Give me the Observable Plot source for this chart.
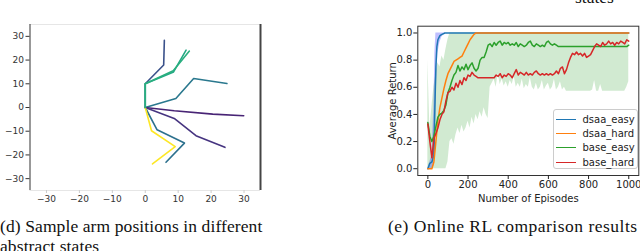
<!DOCTYPE html>
<html><head><meta charset="utf-8">
<script src="https://cdn.jsdelivr.net/npm/d3@7"></script>
<script src="https://cdn.jsdelivr.net/npm/@observablehq/plot@0.6"></script>
<style>
body{margin:0;background:#fff;}
#wrap{position:relative;width:640px;height:251px;overflow:hidden;background:#fff;}
.cap{position:absolute;font-family:"Liberation Serif","DejaVu Serif",serif;font-size:17.5px;color:#111;white-space:nowrap;line-height:20.5px;}
#left,#right{position:absolute;top:0;}
#left{left:0}
#right{left:370px}
#legend{position:absolute;left:553px;top:109px;width:83px;height:58px;border:1px solid #ccc;border-radius:3px;background:rgba(255,255,255,0.85);font-family:"DejaVu Sans",sans-serif;font-size:10px;color:#222;}
.row{position:absolute;left:2px;height:12px;display:flex;align-items:center;white-space:nowrap}
.sw{width:20px;height:0;border-top:1.5px solid;margin-right:6.5px}
</style>
</head><body>
<div id="wrap">
  <div id="left"></div>
  <div id="right"></div>
  <div id="legend"></div>
  <div class="cap" style="left:575px;top:-13px">states</div>
  <div class="cap" style="left:0px;top:215.5px;letter-spacing:0.1px">(d) Sample arm positions in different<br>abstract states</div>
  <div class="cap" style="left:388px;top:215.5px;letter-spacing:0.5px">(e) Online RL comparison results</div>
</div>
<script>
// ---------- (d) arm positions ----------
const armShade = [0.25, 0.4, 0.1, 0.15, 0.37, 1.0, 0.6, 0.63];
const armXs = [
  [0, 0, 5.6, 5.8],
  [0, 9.3, 14.7, 24.8],
  [0, 8.8, 20.5, 29.9],
  [0, 8.8, 15.4, 24.2],
  [0, 3.6, 11.9, 6.3],
  [0, 1.9, 9.1, 2.2],
  [0, 0, 8.6, 12.4],
  [0, 0, 8.5, 13.4]
];
const armYs = [
  [0, 10, 17.9, 28.3],
  [0, 3.8, 12.2, 10.1],
  [0, -1.4, -2.8, -3.5],
  [0, -4.6, -11.9, -16.8],
  [0, -9.4, -15, -23.1],
  [0, -9.8, -16.5, -23.8],
  [0, 10, 15, 24.2],
  [0, 10, 15.5, 23.8]
];
const armTicks = [-30, -20, -10, 0, 10, 20, 30];
const armLimits = [-35, 35];

// ---------- (e) online RL ----------
const seriesNames = ["dsaa_easy", "dsaa_hard", "base_easy", "base_hard"];
const seriesColors = ["#1f77b4", "#ff7f0e", "#2ca02c", "#d62728"];

const dsaaEasyEp  = [0, 10, 20, 30, 35, 40, 45, 50, 60, 70, 85, 1000];
const dsaaEasyVal = [0, 0.04, 0.05, 0.1, 0.45, 0.75, 0.9, 0.95, 0.98, 0.99, 1.0, 1.0];
const dsaaEasyBandEp = [0, 20, 30, 35, 40, 45, 50, 60, 70, 90];
const dsaaEasyLo = [0, 0, 0.02, 0.15, 0.45, 0.7, 0.85, 0.93, 0.97, 1.0];
const dsaaEasyHi = [0, 0.1, 0.45, 0.85, 1.0, 1.0, 1.0, 1.0, 1.0, 1.0];

const dsaaHardEp  = [0, 20, 30, 40, 50, 60, 70, 80, 90, 100, 110, 120, 130, 140, 150, 160, 170, 180, 190, 200, 210, 220, 230, 240, 1000];
const dsaaHardVal = [0, 0, 0.05, 0.2, 0.35, 0.45, 0.52, 0.59, 0.65, 0.7, 0.73, 0.76, 0.79, 0.8, 0.81, 0.82, 0.83, 0.86, 0.89, 0.92, 0.95, 0.97, 0.99, 1.0, 1.0];

const baseEp = [0,10,20,30,40,50,60,70,80,90,100,110,120,130,140,150,160,170,180,190,200,210,220,230,240,250,260,270,280,290,300,310,320,330,340,350,360,370,380,390,400,410,420,430,440,450,460,470,480,490,500,510,520,530,540,550,560,570,580,590,600,610,620,630,640,650,660,670,680,690,700,710,720,730,740,750,760,770,780,790,800,810,820,830,840,850,860,870,880,890,900,910,920,930,940,950,960,970,980,990,1000];
const baseEasyVal = [0.34,0.24,0.2,0.24,0.31,0.38,0.4,0.41,0.43,0.47,0.56,0.6,0.65,0.69,0.71,0.76,0.72,0.75,0.73,0.77,0.73,0.76,0.78,0.74,0.72,0.74,0.8,0.82,0.82,0.86,0.91,0.92,0.9,0.93,0.91,0.93,0.94,0.91,0.93,0.92,0.93,0.91,0.92,0.91,0.93,0.9,0.92,0.91,0.9,0.91,0.93,0.94,0.91,0.9,0.92,0.91,0.9,0.91,0.9,0.93,0.94,0.92,0.91,0.92,0.91,0.9,0.9,0.9,0.9,0.9,0.9,0.9,0.9,0.9,0.9,0.9,0.9,0.9,0.9,0.9,0.9,0.9,0.9,0.9,0.9,0.9,0.9,0.9,0.9,0.9,0.9,0.9,0.9,0.9,0.9,0.9,0.9,0.9,0.9,0.9,0.91];
const baseEasyLo = [0,0,0,0,0,0,0,0,0,0,0.05,0.2,0.22,0.18,0.25,0.3,0.26,0.32,0.27,0.3,0.35,0.3,0.38,0.33,0.4,0.36,0.42,0.38,0.45,0.4,0.37,0.6,0.63,0.66,0.6,0.7,0.62,0.66,0.61,0.64,0.6,0.65,0.62,0.68,0.6,0.63,0.6,0.66,0.59,0.62,0.6,0.67,0.6,0.58,0.63,0.58,0.6,0.65,0.58,0.61,0.63,0.58,0.6,0.66,0.58,0.6,0.64,0.58,0.6,0.57,0.57,0.57,0.57,0.57,0.57,0.57,0.57,0.57,0.57,0.57,0.57,0.57,0.58,0.65,0.57,0.57,0.62,0.57,0.57,0.57,0.57,0.57,0.57,0.57,0.57,0.57,0.57,0.57,0.57,0.6,0.64];
const baseEasyHi = [0.8,0.3,0.45,0.6,0.7,0.78,0.75,0.83,0.8,0.88,0.95,1,1,1,1,1,1,1,1,1,1,1,1,1,1,1,1,1,1,1,1,1,1,1,1,1,1,1,1,1,1,1,1,1,1,1,1,1,1,1,1,1,1,1,1,1,1,1,1,1,1,1,1,1,1,1,1,1,1,1,1,1,1,1,1,1,1,1,1,1,1,1,1,1,1,1,1,1,1,1,1,1,1,1,1,1,1,1,1,1,1];
const baseHardVal = [0.33,0.2,0.08,0.22,0.26,0.3,0.36,0.4,0.42,0.5,0.56,0.57,0.6,0.58,0.63,0.6,0.65,0.62,0.67,0.65,0.69,0.68,0.71,0.69,0.68,0.67,0.67,0.67,0.67,0.67,0.67,0.67,0.67,0.67,0.69,0.68,0.7,0.67,0.69,0.68,0.7,0.69,0.67,0.7,0.73,0.69,0.71,0.7,0.69,0.71,0.69,0.7,0.69,0.71,0.72,0.7,0.69,0.7,0.69,0.7,0.69,0.7,0.69,0.7,0.72,0.7,0.74,0.75,0.7,0.73,0.78,0.82,0.85,0.84,0.86,0.84,0.85,0.83,0.85,0.82,0.83,0.84,0.87,0.9,0.92,0.91,0.9,0.93,0.91,0.92,0.94,0.92,0.93,0.91,0.93,0.92,0.94,0.93,0.92,0.95,0.94];

const rlXTicks = [0, 200, 400, 600, 800, 1000];
const rlYTicks = [0, 0.2, 0.4, 0.6, 0.8, 1.0];

// ---------- build (d) ----------
const armRows = armXs.flatMap((xs, i) => xs.map((x, j) => ({arm: i, x, y: armYs[i][j], shade: armShade[i]})));
const left = Plot.plot({
  width: 270, height: 212,
  marginLeft: 29.5, marginRight: 10, marginTop: 24, marginBottom: 22,
  x: {domain: armLimits},
  y: {domain: armLimits},
  color: {type: "linear", scheme: "viridis", domain: [0, 1]},
  style: {fontFamily: "DejaVu Sans, sans-serif", fontSize: "9px", color: "#333", background: "white"},
  marks: [
    Plot.ruleY([armLimits[1]], {stroke: "#e6e6e6"}),
    Plot.ruleY([armLimits[0]], {stroke: "#e6e6e6"}),
    Plot.ruleX([armLimits[0]], {stroke: "#333"}),
    Plot.ruleX([armLimits[1]], {stroke: "#444", strokeWidth: 2}),
    Plot.line(armRows, {x: "x", y: "y", z: "arm", stroke: "shade", strokeWidth: 1.6}),
    Plot.axisY({ticks: armTicks, tickSize: 4, tickPadding: 2, label: null}),
    Plot.axisX({ticks: armTicks, tickSize: 3, tickPadding: 2, label: null, stroke: "#ccc"})
  ]
});
document.getElementById("left").appendChild(left);

// ---------- build (e) ----------
const zipRows = (eps, vals) => eps.map((ep, i) => ({ep, v: vals[i]}));
const blueBand = dsaaEasyBandEp.map((ep, i) => ({ep, lo: dsaaEasyLo[i], hi: dsaaEasyHi[i]}));
const greenBand = baseEp.map((ep, i) => ({ep, lo: baseEasyLo[i], hi: baseEasyHi[i]}));
const lines = [
  zipRows(dsaaEasyEp, dsaaEasyVal),
  zipRows(dsaaHardEp, dsaaHardVal),
  zipRows(baseEp, baseEasyVal),
  zipRows(baseEp, baseHardVal)
];
const right = Plot.plot({
  width: 270, height: 212,
  marginLeft: 47.3, marginRight: 1.7, marginTop: 25.7, marginBottom: 37,
  x: {domain: [-50, 1050]},
  y: {domain: [-0.05, 1.05]},
  style: {fontFamily: "DejaVu Sans, sans-serif", fontSize: "10px", color: "#222", background: "white"},
  marks: [
    Plot.areaY(greenBand, {x: "ep", y1: "lo", y2: "hi", fill: seriesColors[2], fillOpacity: 0.22}),
    Plot.areaY(blueBand, {x: "ep", y1: "lo", y2: "hi", fill: "#0000ff", fillOpacity: 0.25}),
    ...lines.map((rows, i) => Plot.line(rows, {x: "ep", y: "v", stroke: seriesColors[i], strokeWidth: 1.5})),
    Plot.frame({stroke: "#333"}),
    Plot.axisX({ticks: rlXTicks, tickFormat: d => String(d), tickSize: 4, tickPadding: 1,
      label: "Number of Episodes", labelAnchor: "center", labelArrow: "none", labelOffset: 26}),
    Plot.axisY({ticks: rlYTicks, tickFormat: d3.format(".1f"), tickSize: 4, tickPadding: 1.5,
      label: "Average Return", labelAnchor: "center", labelArrow: "none", labelOffset: 29})
  ]
});
document.getElementById("right").appendChild(right);

// legend
const legend = document.getElementById("legend");
const rowCenters = [9.7, 23.7, 37.7, 52];
seriesNames.forEach((name, i) => {
  const row = document.createElement("div");
  row.className = "row";
  row.style.top = (rowCenters[i] - 6) + "px";
  const sw = document.createElement("span");
  sw.className = "sw";
  sw.style.borderTopColor = seriesColors[i];
  row.appendChild(sw);
  row.appendChild(document.createTextNode(name));
  legend.appendChild(row);
});
</script>
</body></html>
